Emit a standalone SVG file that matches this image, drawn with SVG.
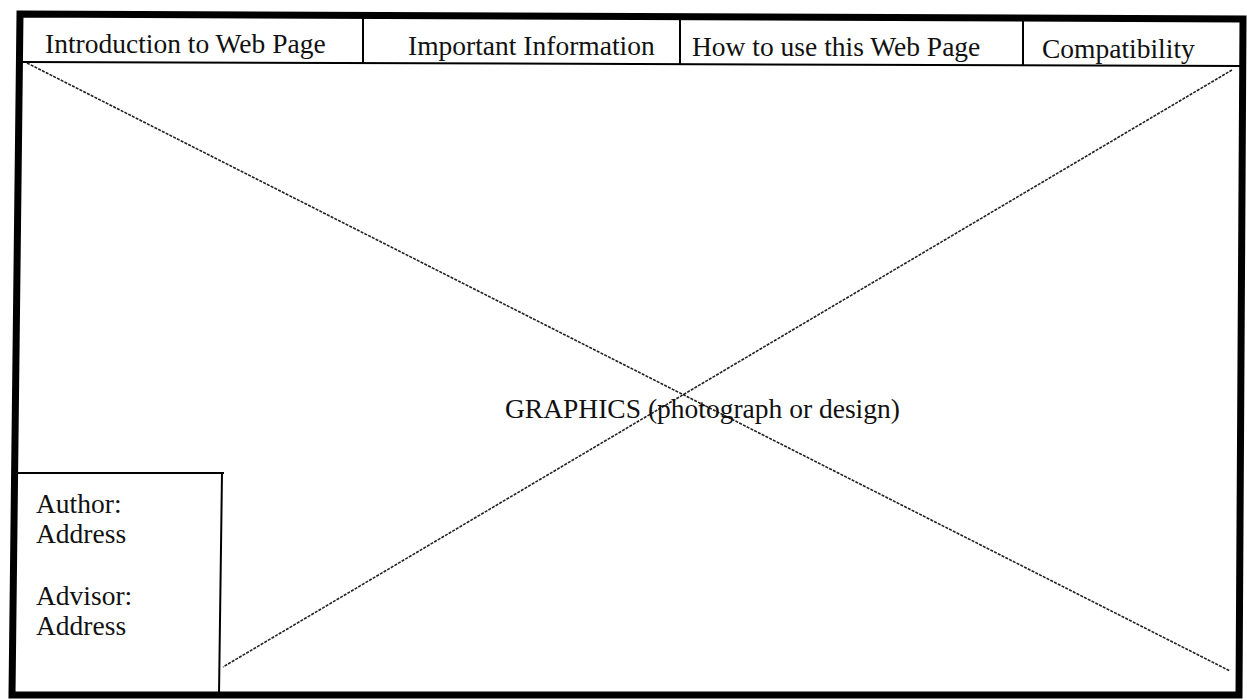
<svg xmlns="http://www.w3.org/2000/svg" width="1247" height="700" viewBox="0 0 1247 700">
  <style>
    .t { font-family: "Liberation Serif", "Times New Roman", serif; font-size: 27.5px; fill: #111; }
    .frame { fill: none; stroke: #000; stroke-width: 7; stroke-linejoin: miter; }
    .thin { fill: none; stroke: #000; stroke-width: 2; }
    .diag { fill: none; stroke: #222; stroke-width: 1.6; stroke-dasharray: 3 1.2; }
  </style>
  <rect width="1247" height="700" fill="#fff"/>
  <g id="frame">
    <path class="frame" d="M20,14 L1243,19 L1239,695 L12,695 Z"/>
  </g>
  <g id="menu">
    <path class="thin" d="M20,62 L1243,66"/>
    <g id="menu-intro">
      <path class="thin" d="M363,16 L363,63"/>
      <text class="t" x="45" y="53">Introduction to Web Page</text>
    </g>
    <g id="menu-important">
      <path class="thin" d="M680,17 L680,64"/>
      <text class="t" x="408" y="55">Important Information</text>
    </g>
    <g id="menu-howto">
      <path class="thin" d="M1023,18 L1023,65"/>
      <text class="t" x="692" y="56">How to use this Web Page</text>
    </g>
    <g id="menu-compat">
      <text class="t" x="1042" y="58">Compatibility</text>
    </g>
  </g>
  <g id="connectors">
    <path class="diag" d="M27,63 L1230,671"/>
    <path class="diag" d="M1232,70 L223,667"/>
  </g>
  <g id="graphics">
    <text class="t" x="505" y="418">GRAPHICS (photograph or design)</text>
  </g>
  <g id="author-box">
    <path class="thin" d="M15,473 L224,473 M222,473 L219,695"/>
    <text class="t" x="36" y="513">Author:</text>
    <text class="t" x="36" y="543">Address</text>
    <text class="t" x="36" y="605">Advisor:</text>
    <text class="t" x="36" y="635">Address</text>
  </g>
</svg>
